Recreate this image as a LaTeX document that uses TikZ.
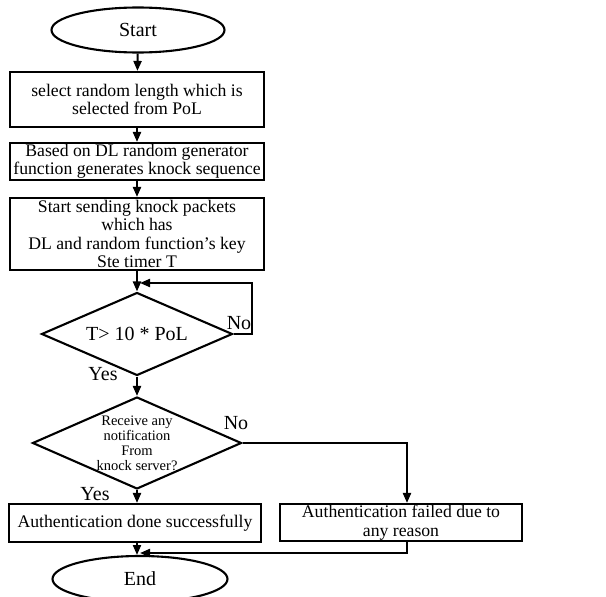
\documentclass[tikz,border=0pt]{standalone}
\usepackage{fontspec}
\setmainfont{Liberation Serif}
\usetikzlibrary{shapes.geometric,arrows.meta}
\begin{document}
\begin{tikzpicture}[x=1pt,y=-1pt,
  every node/.style={font=\fontsize{17.7}{18.5}\selectfont},
  proc/.style={draw,line width=2.1pt,rectangle,align=center,inner sep=0pt},
  term/.style={draw,line width=2.1pt,ellipse,minimum width=173pt,minimum height=45pt,inner sep=0pt,font=\fontsize{20}{22}\selectfont},
  dec/.style={draw,line width=2.1pt,diamond,inner sep=0pt},
  lab/.style={font=\fontsize{20}{22}\selectfont,inner sep=0pt},
  conn/.style={line width=2.1pt,-{Triangle[length=10pt,width=8pt]}}]
\useasboundingbox (0,0) rectangle (606,597);
\node[term] (start) at (138,30) {Start};
\node[proc,minimum width=254pt,minimum height=55pt] (b1) at (137,99.5) {select random length which is\\selected from PoL};
\node[proc,minimum width=254pt,minimum height=37pt] (b2) at (137,161.5) {Based on DL random generator\\function generates knock sequence};
\node[proc,minimum width=254pt,minimum height=72pt] (b3) at (137,234) {Start sending knock packets\\which has\\DL and random function's key\\Ste timer T};
\node[dec,minimum width=191pt,minimum height=83pt,
  label={[font=\fontsize{20}{22}\selectfont]center:T> 10 * PoL}] (d1) at (137,334) {};
\node[dec,minimum width=209pt,minimum height=92pt,
  label={[align=center,font=\fontsize{14.5}{15}\selectfont]center:Receive any\\notification\\From\\knock server?}] (d2) at (137,443) {};
\node[proc,minimum width=252pt,minimum height=38pt] (ok) at (135,523) {Authentication done successfully};
\node[proc,minimum width=242pt,minimum height=37pt] (fail) at (401,522.5) {Authentication failed due to\\any reason};
\node[term,minimum width=175pt,minimum height=46pt] (end) at (140,579) {End};
\node[lab] (no1) at (239,323) {No};
\node[lab] (yes1) at (103,374) {Yes};
\node[lab] (no2) at (236,423) {No};
\node[lab] (yes2) at (95,494) {Yes};
\coordinate (m1) at (137,283);
\coordinate (r1) at (252,334);
\coordinate (r2) at (252,283);
\coordinate (f1) at (407,443);
\coordinate (f2) at (407,553);
\coordinate (e1) at (137,553);
\draw[conn] (start) -- (b1);
\draw[conn] (b1) -- (b2);
\draw[conn] (b2) -- (b3);
\draw[conn] (b3) -- (d1);
\draw[conn] (d1.east) -- (r1) -- (r2) -- ([xshift=3pt]m1);
\draw[conn] (d1) -- (d2);
\draw[conn] (d2) -- (ok.north -| d2);
\draw[conn] (d2.east) -- (f1) -- (fail.north -| f1);
\draw[conn] (ok.south -| e1) -- ([yshift=-2pt]e1);
\draw[conn] (fail.south -| f2) -- (f2) -- ([xshift=3pt]e1);
\end{tikzpicture}
\end{document}
